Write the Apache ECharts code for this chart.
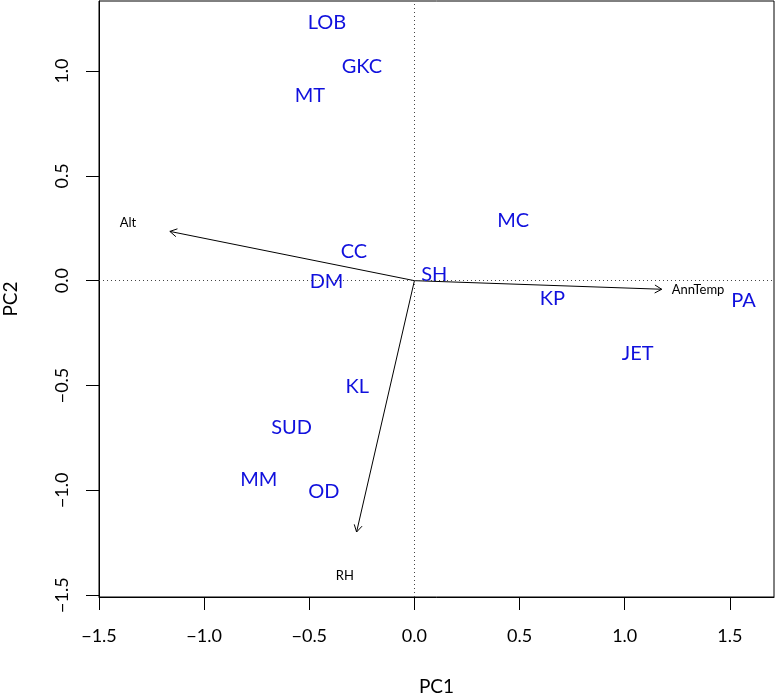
<!DOCTYPE html>
<html>
<head>
<meta charset="utf-8">
<script src="https://cdn.jsdelivr.net/npm/echarts@6/dist/echarts.min.js"></script>
<style>
html,body{margin:0;padding:0;background:#fff;}
#chart{width:776px;height:698px;}
</style>
</head>
<body>
<div id="chart"></div>
<script>
// Site scores (labels in blue)
const sites = ['LOB','GKC','MT','MC','CC','DM','SH','KP','PA','JET','KL','SUD','MM','OD'];
const pc1 = [-0.416,-0.250,-0.497,0.470,-0.288,-0.418,0.094,0.656,1.565,1.062,-0.272,-0.584,-0.740,-0.431];
const pc2 = [1.232,1.022,0.883,0.287,0.139,-0.004,0.028,-0.084,-0.097,-0.346,-0.503,-0.702,-0.947,-1.008];

// Variable loadings (arrows and their labels)
const vars = ['Alt','AnnTemp','RH'];
const arrowX = [-1.163, 1.176, -0.275];
const arrowY = [0.235, -0.041, -1.199];
const varLabelX = [-1.362, 1.349, -0.331];
const varLabelY = [0.274, -0.044, -1.409];

// Axis ticks
const xTicks = [-1.5,-1.0,-0.5,0.0,0.5,1.0,1.5];
const yTicks = [-1.5,-1.0,-0.5,0.0,0.5,1.0];

const FONT = 'Lato';
const fmt = v => (Math.round(v*10)/10).toFixed(1).replace('-', '\u2212');

const siteData = sites.map((s,i)=>[pc1[i], pc2[i], s]);
const arrowData = vars.map((v,i)=>[arrowX[i], arrowY[i]]);
const varLabelData = vars.map((v,i)=>[varLabelX[i], varLabelY[i], v]);

const chart = echarts.init(document.getElementById('chart'), null, {renderer:'canvas'});
chart.setOption({
  animation:false,
  backgroundColor:'#fff',
  grid:{left:99, right:2, top:1, bottom:101, show:true, borderColor:'#000', borderWidth:1, containLabel:false, outerBoundsMode:'none'},
  xAxis:{
    type:'value', min:-1.5, max:1.71,
    name:'PC1', nameLocation:'middle', nameGap:80,
    nameTextStyle:{fontFamily:FONT, fontSize:19, color:'#000'},
    axisLine:{show:true, onZero:false, lineStyle:{color:'#000', width:1}},
    axisTick:{show:true, inside:false, length:13, customValues:xTicks, lineStyle:{color:'#000'}},
    axisLabel:{show:true, margin:30, customValues:xTicks, formatter:fmt, fontFamily:FONT, fontSize:18, color:'#000'},
    splitLine:{show:false}
  },
  yAxis:{
    type:'value', min:-1.509, max:1.334,
    name:'PC2', nameLocation:'middle', nameGap:79, nameRotate:90,
    nameTextStyle:{fontFamily:FONT, fontSize:19, color:'#000'},
    axisLine:{show:true, onZero:false, lineStyle:{color:'#000', width:1}},
    axisTick:{show:true, inside:false, length:13, customValues:yTicks, lineStyle:{color:'#000'}},
    axisLabel:{show:true, margin:28, rotate:90, customValues:yTicks, formatter:fmt, fontFamily:FONT, fontSize:18, color:'#000'},
    splitLine:{show:false}
  },
  series:[
    {
      type:'line', data:[], silent:true,
      markLine:{
        silent:true, symbol:['none','none'], label:{show:false},
        lineStyle:{type:[1,3], color:'#444', width:1},
        data:[{xAxis:0},{yAxis:0}]
      }
    },
    {
      type:'custom', silent:true, data:arrowData,
      renderItem:function(params, api){
        const o = api.coord([0,0]);
        const t = api.coord([api.value(0), api.value(1)]);
        const a = Math.atan2(t[1]-o[1], t[0]-o[0]);
        const L = 8, w = Math.PI/6;
        const p1 = [t[0]-L*Math.cos(a-w), t[1]-L*Math.sin(a-w)];
        const p2 = [t[0]-L*Math.cos(a+w), t[1]-L*Math.sin(a+w)];
        return {type:'group', children:[
          {type:'line', shape:{x1:o[0], y1:o[1], x2:t[0], y2:t[1]}, style:{stroke:'#000', lineWidth:1}},
          {type:'polyline', shape:{points:[p1, t, p2]}, style:{stroke:'#000', lineWidth:1, fill:null}}
        ]};
      }
    },
    {
      type:'custom', silent:true, data:varLabelData,
      renderItem:function(params, api){
        const p = api.coord([api.value(0), api.value(1)]);
        return {type:'text', style:{text:varLabelData[params.dataIndex][2], x:p[0], y:p[1], align:'center', verticalAlign:'middle', fill:'#000', fontFamily:FONT, fontSize:13}};
      }
    },
    {
      type:'custom', silent:true, data:siteData,
      renderItem:function(params, api){
        const p = api.coord([api.value(0), api.value(1)]);
        return {type:'text', style:{text:siteData[params.dataIndex][2], x:p[0], y:p[1], align:'center', verticalAlign:'middle', fill:'#1010dd', fontFamily:FONT, fontSize:20}};
      }
    }
  ]
});
</script>
</body>
</html>
